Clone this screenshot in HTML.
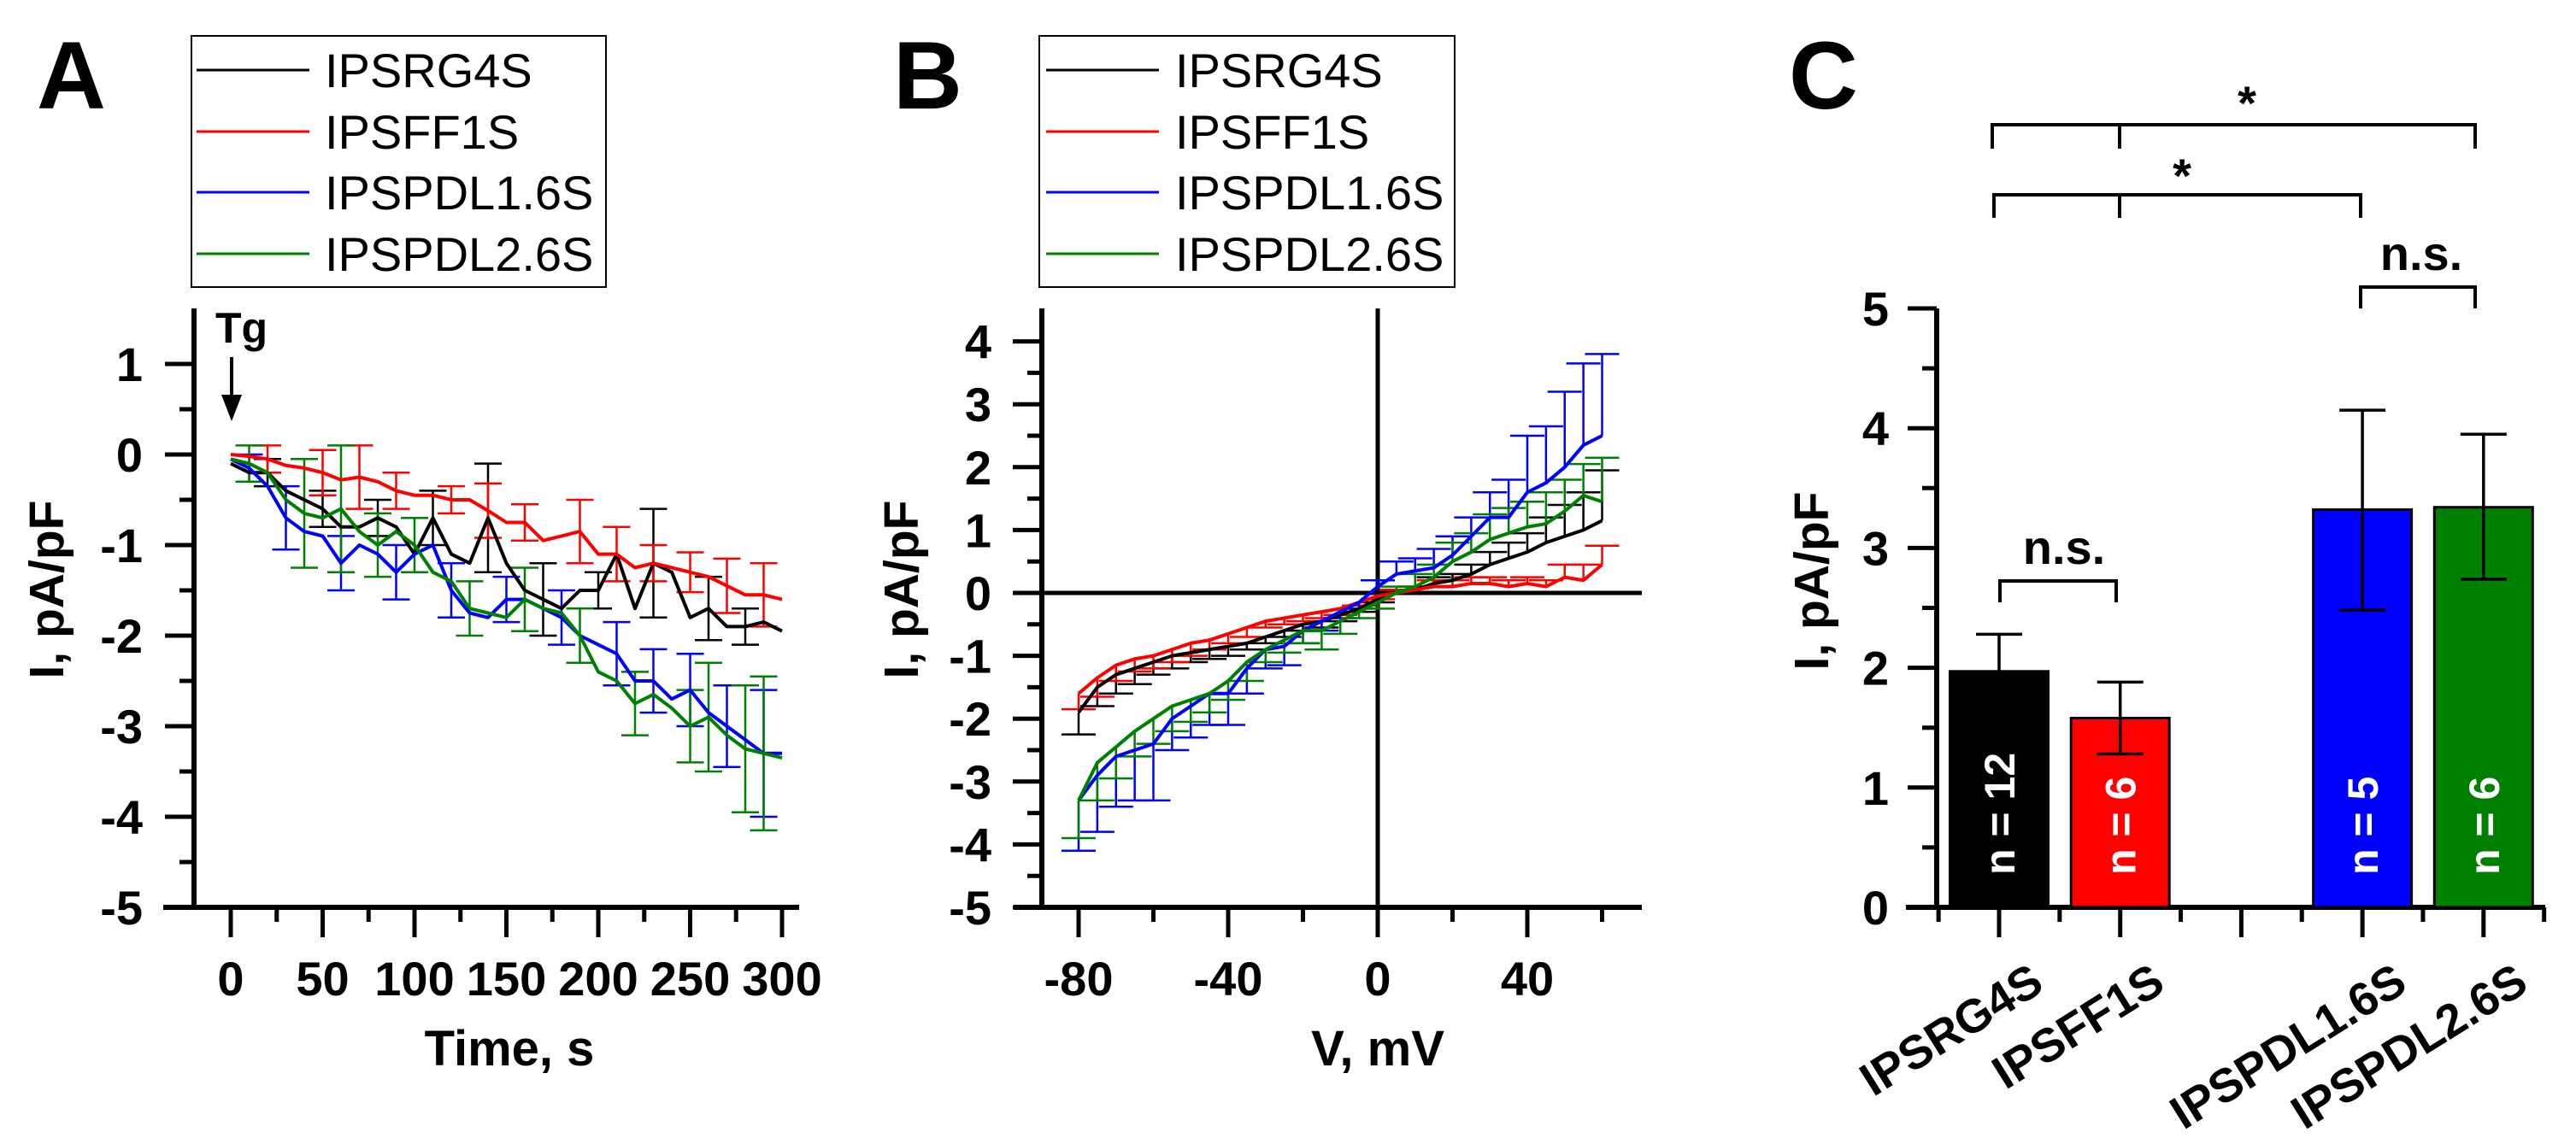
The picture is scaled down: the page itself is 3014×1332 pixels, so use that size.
<!DOCTYPE html>
<html><head><meta charset="utf-8">
<style>
html,body{margin:0;padding:0;background:#fff;}
svg{display:block;font-family:"Liberation Sans",Arial,sans-serif;}
</style></head>
<body>
<svg id="fig" width="3014" height="1332" viewBox="0 0 3014 1332" xmlns="http://www.w3.org/2000/svg">
<rect width="3014" height="1332" fill="#fff"/>
<g id="pa"></g>
<g id="pb"></g>
<g id="pc"></g>
</svg>
<script>
// ---------- Panel A data (time course) ----------
const timeS = [0,10,20,30,40,50,60,70,80,90,100,110,120,130,140,150,160,170,180,190,200,210,220,230,240,250,260,270,280,290,300];
const aBlack = [-0.1,-0.2,-0.2,-0.4,-0.5,-0.6,-0.8,-0.8,-0.7,-0.8,-1.1,-0.7,-1.1,-1.2,-0.7,-1.2,-1.5,-1.6,-1.7,-1.5,-1.5,-1.1,-1.7,-1.2,-1.3,-1.8,-1.7,-1.9,-1.9,-1.85,-1.95];
const aRed = [0,-0.02,-0.05,-0.12,-0.15,-0.2,-0.28,-0.25,-0.3,-0.4,-0.45,-0.45,-0.5,-0.5,-0.62,-0.75,-0.75,-0.95,-0.9,-0.85,-1.1,-1.1,-1.25,-1.2,-1.25,-1.3,-1.35,-1.45,-1.55,-1.55,-1.6];
const aBlue = [-0.05,-0.15,-0.35,-0.7,-0.85,-0.9,-1.2,-1.0,-1.1,-1.3,-1.1,-1.0,-1.5,-1.75,-1.8,-1.6,-1.6,-1.7,-1.8,-2.0,-2.1,-2.2,-2.5,-2.5,-2.7,-2.6,-2.85,-3.0,-3.15,-3.3,-3.3];
const aGreen = [-0.05,-0.1,-0.2,-0.5,-0.65,-0.7,-0.6,-0.85,-1.0,-0.85,-1.0,-1.3,-1.4,-1.7,-1.75,-1.8,-1.6,-1.7,-1.75,-2.0,-2.4,-2.5,-2.75,-2.65,-2.8,-3.0,-2.9,-3.1,-3.25,-3.3,-3.35];
const aErrBlack = [0,0,0.15,0,0,0.2,0,0,0.2,0,0,0.3,0,0,0.6,0,0,0.4,0,0,0.2,0,0,0.6,0,0,0.35,0,0.2,0,0];
const aErrRed = [0,0,0.15,0,0,0.25,0,0.35,0,0.2,0,0,0.15,0,0.3,0,0.2,0,0,0.35,0,0.3,0,0.2,0,0.22,0,0.3,0,0.35,0];
const aErrBlue = [0,0.15,0,0.35,0,0,0.3,0,0,0.3,0,0,0.3,0,0,0.25,0,0,0.3,0,0,0.35,0,0.35,0,0.4,0,0.45,0,0.7,0];
const aErrGreen = [0,0.2,0,0,0.6,0,0.7,0,0.35,0,0.3,0,0,0.3,0,0,0.35,0,0,0.3,0,0,0.35,0,0,0.4,0.6,0,0.7,0.85,0];
const aXTicks = [0,50,100,150,200,250,300];
const aYTicks = [1,0,-1,-2,-3,-4,-5];

// ---------- Panel B data (I-V) ----------
const voltMV = [-80,-75,-70,-65,-60,-55,-50,-45,-40,-35,-30,-25,-20,-15,-10,-5,0,5,10,15,20,25,30,35,40,45,50,55,60];
const bBlack = [-1.9,-1.5,-1.3,-1.2,-1.1,-1.0,-0.95,-0.9,-0.85,-0.8,-0.7,-0.6,-0.5,-0.45,-0.35,-0.25,-0.1,0,0.05,0.15,0.2,0.3,0.45,0.55,0.65,0.8,0.9,1.0,1.15];
const bRed = [-1.6,-1.35,-1.15,-1.05,-1.0,-0.9,-0.8,-0.75,-0.65,-0.55,-0.45,-0.4,-0.35,-0.3,-0.25,-0.15,-0.05,0,0.05,0.1,0.1,0.15,0.15,0.1,0.15,0.1,0.25,0.2,0.45];
const bBlue = [-3.3,-2.9,-2.6,-2.5,-2.4,-2.0,-1.8,-1.6,-1.6,-1.2,-0.9,-0.85,-0.6,-0.45,-0.3,-0.15,0.1,0.3,0.35,0.4,0.6,0.9,1.2,1.2,1.6,1.75,2.0,2.35,2.5];
const bGreen = [-3.3,-2.7,-2.45,-2.2,-2.0,-1.8,-1.7,-1.6,-1.4,-1.1,-0.9,-0.75,-0.6,-0.6,-0.45,-0.3,-0.15,0,0.1,0.25,0.5,0.65,0.85,0.95,1.05,1.1,1.3,1.55,1.45];
const bErrBlack = [0.35,0.3,0.3,0.25,0.2,0.2,0.15,0.15,0.15,0.1,0.1,0.1,0.1,0.1,0.1,0.05,0.05,0.05,0.05,0.1,0.1,0.15,0.2,0.25,0.3,0.4,0.5,0.6,0.8];
const bErrRed = [0.25,0.3,0.25,0.2,0.2,0.2,0.2,0.15,0.15,0.15,0.1,0.1,0.1,0.1,0.1,0.05,0.05,0.05,0.05,0.1,0.1,0.1,0.1,0.1,0.1,0.1,0.2,0.25,0.3];
const bErrBlue = [0.8,0.9,0.8,0.8,0.9,0.5,0.5,0.5,0.5,0.4,0.3,0.3,0.2,0.15,0.1,0.1,0.1,0.2,0.2,0.3,0.3,0.3,0.4,0.6,0.9,0.9,1.2,1.3,1.3];
const bErrGreen = [0.6,0.6,0.5,0.4,0.4,0.4,0.35,0.3,0.3,0.3,0.2,0.2,0.2,0.3,0.2,0.1,0.1,0.1,0.2,0.2,0.3,0.3,0.4,0.4,0.4,0.5,0.5,0.5,0.7];
const bXTicks = [-80,-40,0,40];
const bYTicks = [4,3,2,1,0,-1,-2,-3,-4,-5];

// ---------- Panel C data (bars) ----------
const cCategories = ["IPSRG4S","IPSFF1S","","IPSPDL1.6S","IPSPDL2.6S"];
const cValues = [1.97,1.58,null,3.32,3.34];
const cErrUp = [2.28,1.88,null,4.15,3.95];
const cErrDown = [1.66,1.28,null,2.48,2.74];
const cCounts = ["n = 12","n = 6","","n = 5","n = 6"];
const cYTicks = [0,1,2,3,4,5];

const seriesNames = ["IPSRG4S","IPSFF1S","IPSPDL1.6S","IPSPDL2.6S"];
const seriesColors = ["#000000","#ff0000","#0000ff","#008000"];

const NS = "http://www.w3.org/2000/svg";
function mk(parent, tag, attrs, text){
  const e = document.createElementNS(NS, tag);
  for (const k in attrs) e.setAttribute(k, attrs[k]);
  if (text !== undefined) e.textContent = text;
  parent.appendChild(e);
  return e;
}

function legend(g, x0, x1, lx0, lx1, tx){
  const box = mk(g,'rect',{x:x0,y:42,width:x1-x0,height:294,fill:'#fff',stroke:'#000','stroke-width':2});
  
  
  const ys=[82,154,225,297];
  for(let i=0;i<4;i++){
    const ln = mk(g,'line',{x1:lx0,x2:lx1,y1:ys[i],y2:ys[i],stroke:seriesColors[i],'stroke-width':3});
    
    
    const t = mk(g,'text',{x:tx,y:ys[i]+20,'font-size':56,fill:'#000'},seriesNames[i]);
    
    
  }
}

function panelLabel(g,x,letter){
  const t = mk(g,'text',{x:x,y:127,'font-size':112,'font-weight':'bold'},letter);
  
  
}

function yTitle(g,x,y){
  const t = mk(g,'text',{x:0,y:0,'font-size':57,'font-weight':'bold','text-anchor':'middle',transform:`translate(${x},${y}) rotate(-90)`},'I, pA/pF');
  
  
}

// ================= Panel A =================
(function(){
  const g = document.getElementById('pa');
  const X = t => 270 + t*(645/300);
  const Y = v => 532 - v*106;
  panelLabel(g,43,'A');
  legend(g,224,709,230,362,380);
  const ya = mk(g,'line',{x1:227,x2:227,y1:361,y2:1065,stroke:'#000','stroke-width':6});
   
  const xa = mk(g,'line',{x1:191,x2:935,y1:1062,y2:1062,stroke:'#000','stroke-width':6});
   
  for(let v=1;v>=-5;v-=0.5){
    const major = Number.isInteger(v);
    mk(g,'line',{x1:major?193:210,x2:227,y1:Y(v),y2:Y(v),stroke:'#000','stroke-width':5});
  }
  aYTicks.forEach(v=>{
    const t = mk(g,'text',{x:167,y:Y(v)+20,'font-size':56,'font-weight':'bold','text-anchor':'end'},String(v));
     
  });
  for(let s=0;s<=300;s+=25){
    const major = s%50===0;
    mk(g,'line',{x1:X(s),x2:X(s),y1:1062,y2:major?1097:1079,stroke:'#000','stroke-width':5});
  }
  aXTicks.forEach(s=>{
    const t = mk(g,'text',{x:X(s),y:1165,'font-size':56,'font-weight':'bold','text-anchor':'middle'},String(s));
     
  });
  const xt = mk(g,'text',{x:596,y:1247,'font-size':58,'font-weight':'bold','text-anchor':'middle'},'Time, s');
   
  yTitle(g,74,690);
  const tg = mk(g,'text',{x:252,y:401,'font-size':50,'font-weight':'bold'},'Tg');
   
  const ar = mk(g,'line',{x1:271,x2:271,y1:418,y2:470,stroke:'#000','stroke-width':4});
   
  mk(g,'polygon',{points:'259,462 283,462 271,493',fill:'#000'});
  const series=[aBlack,aRed,aBlue,aGreen], errs=[aErrBlack,aErrRed,aErrBlue,aErrGreen];
  series.forEach((d,i)=>{
    const eg = mk(g,'g',{});
    
    
    d.forEach((v,j)=>{
      const e=errs[i][j]; if(!e) return;
      const x=X(timeS[j]);
      mk(eg,'line',{x1:x,x2:x,y1:Y(v+e),y2:Y(v-e),stroke:seriesColors[i],'stroke-width':2.5});
      mk(eg,'line',{x1:x-16,x2:x+16,y1:Y(v+e),y2:Y(v+e),stroke:seriesColors[i],'stroke-width':2.5});
      mk(eg,'line',{x1:x-16,x2:x+16,y1:Y(v-e),y2:Y(v-e),stroke:seriesColors[i],'stroke-width':2.5});
    });
  });
  series.forEach((d,i)=>{
    const p = mk(g,'polyline',{points:d.map((v,j)=>X(timeS[j])+','+Y(v)).join(' '),fill:'none',stroke:seriesColors[i],'stroke-width':4,'stroke-linejoin':'round'});
    
    
  });
})();

// ================= Panel B =================
(function(){
  const g = document.getElementById('pb');
  const X = v => 1612 + v*(175/40);
  const Y = v => 694 - v*73.6;
  panelLabel(g,1045,'B');
  legend(g,1216,1702,1224,1356,1375);
  const ya = mk(g,'line',{x1:1219,x2:1219,y1:361,y2:1065,stroke:'#000','stroke-width':6});
   
  const xa = mk(g,'line',{x1:1186,x2:1921,y1:1062,y2:1062,stroke:'#000','stroke-width':6});
   
  const zh = mk(g,'line',{x1:1219,x2:1921,y1:Y(0),y2:Y(0),stroke:'#000','stroke-width':5});
   
  const zv = mk(g,'line',{x1:X(0),x2:X(0),y1:361,y2:1062,stroke:'#000','stroke-width':5});
   
  for(let v=4;v>=-5;v-=0.5){
    const major = Number.isInteger(v);
    mk(g,'line',{x1:major?1185:1202,x2:1219,y1:Y(v),y2:Y(v),stroke:'#000','stroke-width':5});
  }
  bYTicks.forEach(v=>{
    const t = mk(g,'text',{x:1160,y:Y(v)+20,'font-size':56,'font-weight':'bold','text-anchor':'end'},String(v));
     
  });
  for(let v=-80;v<=60;v+=20){
    const major = v%40===0;
    mk(g,'line',{x1:X(v),x2:X(v),y1:1062,y2:major?1097:1079,stroke:'#000','stroke-width':5});
  }
  bXTicks.forEach(v=>{
    const t = mk(g,'text',{x:X(v),y:1165,'font-size':56,'font-weight':'bold','text-anchor':'middle'},String(v));
     
  });
  const xt = mk(g,'text',{x:1612,y:1247,'font-size':58,'font-weight':'bold','text-anchor':'middle'},'V, mV');
   
  yTitle(g,1074,690);
  const series=[bBlack,bRed,bBlue,bGreen], errs=[bErrBlack,bErrRed,bErrBlue,bErrGreen];
  series.forEach((d,i)=>{
    const eg = mk(g,'g',{});
    
    
    d.forEach((v,j)=>{
      const e=errs[i][j]; if(!e) return;
      const x=X(voltMV[j]);
      const end = v>=0 ? v+e : v-e;
      mk(eg,'line',{x1:x,x2:x,y1:Y(v),y2:Y(end),stroke:seriesColors[i],'stroke-width':2.5});
      mk(eg,'line',{x1:x-20,x2:x+20,y1:Y(end),y2:Y(end),stroke:seriesColors[i],'stroke-width':2.5});
    });
  });
  series.forEach((d,i)=>{
    const p = mk(g,'polyline',{points:d.map((v,j)=>X(voltMV[j])+','+Y(v)).join(' '),fill:'none',stroke:seriesColors[i],'stroke-width':4,'stroke-linejoin':'round'});
    
    
  });
})();

// ================= Panel C =================
(function(){
  const g = document.getElementById('pc');
  const step = 141.7, first = 2339;
  const X = i => first + i*step;
  const Y = v => 1062 - v*140.2;
  panelLabel(g,2093,'C');
  const ya = mk(g,'line',{x1:2266,x2:2266,y1:361,y2:1065,stroke:'#000','stroke-width':6});
   
  const xa = mk(g,'line',{x1:2230,x2:2978,y1:1062,y2:1062,stroke:'#000','stroke-width':6});
   
  for(let v=0;v<=5;v+=0.5){
    const major = Number.isInteger(v);
    mk(g,'line',{x1:major?2232:2249,x2:2266,y1:Y(v),y2:Y(v),stroke:'#000','stroke-width':5});
  }
  cYTicks.forEach(v=>{
    const t = mk(g,'text',{x:2210,y:Y(v)+20,'font-size':56,'font-weight':'bold','text-anchor':'end'},String(v));
     
  });
  yTitle(g,2139,680);
  cCategories.forEach((c,i)=>{
    mk(g,'line',{x1:X(i),x2:X(i),y1:1062,y2:1097,stroke:'#000','stroke-width':5});
    mk(g,'line',{x1:X(i)-step/2,x2:X(i)-step/2,y1:1062,y2:1079,stroke:'#000','stroke-width':5});
    if(i===cCategories.length-1) mk(g,'line',{x1:X(i)+step/2,x2:X(i)+step/2,y1:1062,y2:1079,stroke:'#000','stroke-width':5});
  });
  const colorIdx=[0,1,null,2,3];
  cCategories.forEach((c,i)=>{
    if(cValues[i]===null) return;
    const col = seriesColors[colorIdx[i]];
    const bw=115, x0=X(i)-bw/2;
    const r = mk(g,'rect',{x:x0,y:Y(cValues[i]),width:bw,height:Y(0)-Y(cValues[i]),fill:col,stroke:'#000','stroke-width':3});
    
    
    const eg = mk(g,'g',{});
    
    
    mk(eg,'line',{x1:X(i),x2:X(i),y1:Y(cErrUp[i]),y2:Y(cErrDown[i]),stroke:'#000','stroke-width':3.5});
    mk(eg,'line',{x1:X(i)-27,x2:X(i)+27,y1:Y(cErrUp[i]),y2:Y(cErrUp[i]),stroke:'#000','stroke-width':3.5});
    mk(eg,'line',{x1:X(i)-27,x2:X(i)+27,y1:Y(cErrDown[i]),y2:Y(cErrDown[i]),stroke:'#000','stroke-width':3.5});
    const nt = mk(g,'text',{x:0,y:0,'font-size':50,'font-weight':'bold',fill:'#fff',transform:`translate(${X(i)+18},1024) rotate(-90)`},cCounts[i]);
    
    
    const lt = mk(g,'text',{x:0,y:0,'font-size':55,'font-weight':'bold','text-anchor':'end',transform:`translate(${X(i)+55},1158) rotate(-32)`},c);
    
    
  });
  function bracket(name,xa_,xb,xm,y,drop){
    const p = mk(g,'path',{d:`M${xa_},${y+drop} V${y} H${xb} V${y+drop} M${xm},${y} V${y+drop}`,fill:'none',stroke:'#000','stroke-width':4});
     
  }
  bracket('bracket-top',2331,2896,2480,146,28);
  bracket('bracket-middle',2333,2762,2480,228,27);
  bracket('bracket-ns-right',2762,2896,2762,336,25);
  bracket('bracket-ns-left',2340,2476,2340,680,25);
  const s1 = mk(g,'text',{x:2629,y:140,'font-size':56,'font-weight':'bold','text-anchor':'middle'},'*');
   
  const s2 = mk(g,'text',{x:2553,y:225,'font-size':56,'font-weight':'bold','text-anchor':'middle'},'*');
   
  const n1 = mk(g,'text',{x:2833,y:316,'font-size':56,'font-weight':'bold','text-anchor':'middle'},'n.s.');
   
  const n2 = mk(g,'text',{x:2415,y:660,'font-size':56,'font-weight':'bold','text-anchor':'middle'},'n.s.');
   
})();
</script>
</body></html>
